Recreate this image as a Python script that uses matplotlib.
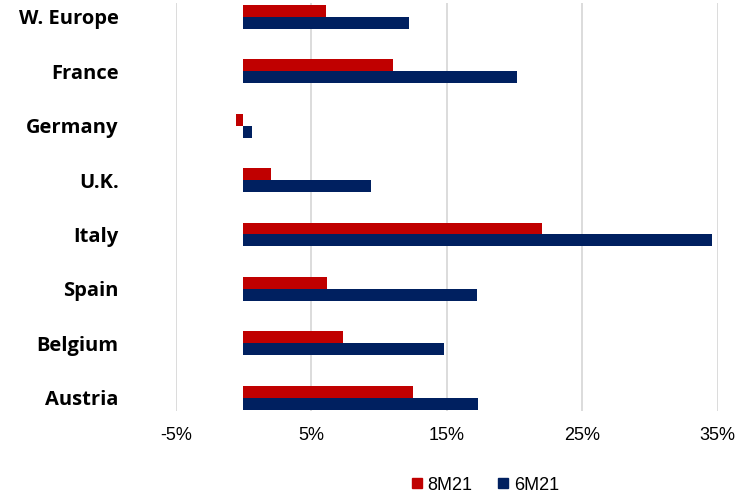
import matplotlib
matplotlib.use("Agg")
import matplotlib.pyplot as plt
from matplotlib.lines import Line2D
import numpy as np

categories = ["W. Europe", "France", "Germany", "U.K.", "Italy", "Spain", "Belgium", "Austria"]
growth_8m21 = [6.1, 11.0, -0.55, 2.0, 22.0, 6.2, 7.35, 12.5]
growth_6m21 = [12.2, 20.2, 0.65, 9.4, 34.6, 17.2, 14.8, 17.3]
tick_values = [-5, 5, 15, 25, 35]
tick_labels = ["-5%", "5%", "15%", "25%", "35%"]

RED = "#C00000"
NAVY = "#002060"

fig = plt.figure(figsize=(7.43, 4.96), dpi=100)
ax = fig.add_axes([0.2365, 0.172, 0.7295, 0.8213])

n = len(categories)
y = np.arange(n)[::-1]  # first category at the top
h = 0.22

ax.barh(y + h / 2, growth_8m21, height=h, color=RED, zorder=3)
ax.barh(y - h / 2, growth_6m21, height=h, color=NAVY, zorder=3)

ax.set_xlim(-5, 35)
ax.set_ylim(-0.24, n - 1 + 0.25)
ax.set_xticks(tick_values)
ax.set_xticklabels(tick_labels, fontfamily="Liberation Sans", fontsize=13)
ax.set_yticks(y)
ax.set_yticklabels(categories, fontfamily="Open Sans", fontweight="bold", fontsize=14.5)

ax.grid(axis="x", color="#D9D9D9", linewidth=1.3, zorder=0)
for s in ax.spines.values():
    s.set_visible(False)
ax.tick_params(axis="both", length=0)
ax.tick_params(axis="y", pad=41)
ax.tick_params(axis="x", pad=12)

handles = [
    Line2D([], [], marker="s", linestyle="none", markersize=6.5, color=RED),
    Line2D([], [], marker="s", linestyle="none", markersize=6.5, color=NAVY),
]
fig.legend(handles, ["8M21", "6M21"], loc="center", bbox_to_anchor=(0.653, 0.022),
           ncol=2, frameon=False, handletextpad=0.3, columnspacing=1.4,
           handlelength=0.6, prop={"family": "Liberation Sans", "size": 13})

fig.savefig("out.png", dpi=100)
